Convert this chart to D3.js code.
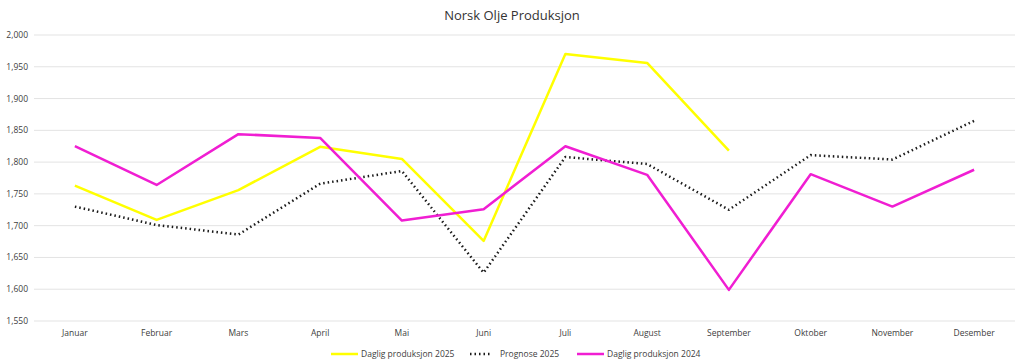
<!DOCTYPE html>
<html>
<head>
<meta charset="utf-8">
<script src="https://cdn.jsdelivr.net/npm/d3@7"></script>
<style>
  body { margin: 0; background: #fff; }
  text { font-family: "Open Sans", "Noto Sans", sans-serif; fill: #404040; }
</style>
</head>
<body>
<div id="chart"></div>
<script>
// data
var months = ["Januar","Februar","Mars","April","Mai","Juni","Juli","August","September","Oktober","November","Desember"]
var prod2025 = [1763,1709,1756,1824,1805,1676,1970,1956,1818]
var prognose2025 = [1730,1701,1686,1766,1786,1626,1808,1797,1725,1811,1804,1865]
var prod2024 = [1825,1764,1844,1838,1708,1726,1825,1780,1599,1781,1730,1788]
var yTicks = [1550,1600,1650,1700,1750,1800,1850,1900,1950,2000]

var w = 1024, h = 363
var svg = d3.select("#chart").append("svg").attr("width", w).attr("height", h)

var x = d3.scaleBand().domain(months).range([34, 1015])
var y = d3.scaleLinear().domain([1550, 2000]).range([321, 35])

svg.append("text")
  .attr("x", w / 2).attr("y", 20)
  .attr("text-anchor", "middle")
  .style("font-size", "13px").style("fill", "#333")
  .text("Norsk Olje Produksjon")

// gridlines
svg.append("g").selectAll("line").data(yTicks).enter().append("line")
  .attr("x1", 34).attr("x2", 1015)
  .attr("y1", function(d){ return y(d) }).attr("y2", function(d){ return y(d) })
  .attr("stroke", "#e3e3e3").attr("stroke-width", 1)

var fmt = d3.format(",")
svg.append("g").selectAll("text").data(yTicks).enter().append("text")
  .attr("x", 28).attr("y", function(d){ return y(d) + 3 })
  .attr("text-anchor", "end")
  .style("font-size", "8.5px")
  .text(function(d){ return fmt(d) })

svg.append("g").selectAll("text").data(months).enter().append("text")
  .attr("x", function(d){ return x(d) + x.bandwidth() / 2 }).attr("y", 336)
  .attr("text-anchor", "middle")
  .style("font-size", "8.5px")
  .text(function(d){ return d })

var line = d3.line()
  .x(function(d, i){ return x(months[i]) + x.bandwidth() / 2 })
  .y(function(d){ return y(d) })

var series = [
  {name: "Daglig produksjon 2025", vals: prod2025, color: "#ffff00", dash: null, width: 2.5},
  {name: "Prognose 2025", vals: prognose2025, color: "#1a1a1a", dash: "1.5,3", width: 2.5},
  {name: "Daglig produksjon 2024", vals: prod2024, color: "#f01ed2", dash: null, width: 2.5}
]

// forecast first, then 2025, then 2024 on top
var order = [1, 0, 2]
order.forEach(function(k){
  var s = series[k]
  svg.append("path")
    .datum(s.vals)
    .attr("d", line)
    .attr("fill", "none")
    .attr("stroke", s.color)
    .attr("stroke-width", s.width)
    .attr("stroke-dasharray", s.dash)
    .attr("stroke-linejoin", "round")
})

// legend
var legX = [331, 470, 577]
var leg = svg.append("g")
series.forEach(function(s, i){
  var lx = legX[i]
  var len = s.dash ? 22 : 27
  leg.append("line")
    .attr("x1", lx).attr("x2", lx + len)
    .attr("y1", 354).attr("y2", 354)
    .attr("stroke", s.color).attr("stroke-width", 2.5)
    .attr("stroke-dasharray", s.dash)
  leg.append("text")
    .attr("x", lx + len + (s.dash ? 8 : 3)).attr("y", 357)
    .style("font-size", "8.5px")
    .text(s.name)
})
</script>
</body>
</html>
